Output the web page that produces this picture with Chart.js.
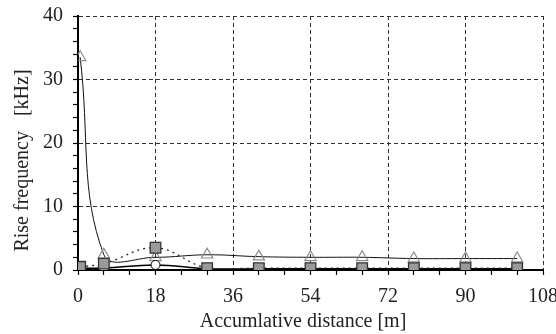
<!DOCTYPE html>
<html>
<head>
<meta charset="utf-8">
<script src="https://cdn.jsdelivr.net/npm/chart.js@4"></script>
<style>
  html, body { margin: 0; padding: 0; background: #fff; }
  #wrap { width: 556px; height: 334px; }
</style>
</head>
<body>
<div id="wrap"><canvas id="riseChart"></canvas></div>
<script>
// distances where each measurement was taken [m]
const distances = [0.5, 6, 18, 30, 42, 54, 66, 78, 90, 102];
// rise frequency per series [kHz]
const triangleValues = [33.5, 2.4, 2.0, 2.4, 2.1, 2.0, 2.0, 1.8, 1.8, 1.8];
const squareValues = [0.5, 1.0, 3.5, 0.3, 0.3, 0.3, 0.3, 0.3, 0.3, 0.3];
const circleValues = [0.3, 0.3, 0.8, 0.2, 0.2, 0.2, 0.2, 0.2, 0.2, 0.2];

const xMajor = 18;
const yMajor = 10;

function toPoints(values) {
  return distances.map((d, i) => ({ x: d, y: values[i] }));
}

const serif = "'Liberation Serif', 'DejaVu Serif', serif";

new Chart("riseChart", {
  type: "line",
  data: {
    datasets: [
      {
        label: "squares",
        data: toPoints(squareValues),
        borderColor: "#222",
        borderWidth: 1.3,
        borderDash: [2, 4],
        pointStyle: "rect",
        pointRadius: 7.5,
        pointBackgroundColor: "#9a9a9a",
        pointBorderColor: "#333",
        pointBorderWidth: 1.3,
        tension: 0.4,
        order: 1,
      },
      {
        label: "circles",
        data: toPoints(circleValues),
        borderColor: "#000",
        borderWidth: 1.5,
        pointStyle: "circle",
        pointRadius: 4.5,
        pointBackgroundColor: "#fff",
        pointBorderColor: "#000",
        pointBorderWidth: 1,
        tension: 0.4,
        order: 2,
      },
      {
        label: "triangles",
        data: toPoints(triangleValues),
        borderColor: "#111",
        borderWidth: 1,
        pointStyle: "triangle",
        pointRadius: 6.5,
        pointBackgroundColor: "rgba(255,255,255,0)",
        pointBorderColor: "#8a8a8a",
        pointBorderWidth: 1.2,
        tension: 0.4,
        order: 3,
      },
    ],
  },
  options: {
    responsive: true,
    maintainAspectRatio: false,
    animation: false,
    layout: { padding: { top: 16, right: 0, left: 0, bottom: 0 } },
    plugins: {
      legend: { display: false },
      tooltip: { enabled: false },
    },
    scales: {
      x: {
        type: "linear",
        min: 0,
        max: 108,
        afterFit: (axis) => {
          axis.height = 64;
          axis.paddingLeft = 0;
          axis.paddingRight = 13;
        },
        border: { display: true, color: "#000", width: 2, dash: [4, 3] },
        grid: {
          color: (ctx) => (ctx.tick && ctx.tick.value % xMajor === 0 ? "#333" : "rgba(0,0,0,0)"),
          lineWidth: 1,
          tickColor: "#000",
          tickLength: 5,
          tickBorderDash: [],
          tickWidth: 1.2,
        },
        ticks: {
          stepSize: 6,
          autoSkip: false,
          maxRotation: 0,
          padding: 10,
          color: "#222",
          font: { family: serif, size: 20 },
          callback: (v) => (v % xMajor === 0 ? String(v) : ""),
        },
        title: {
          display: true,
          text: "Accumlative distance [m]   ",
          color: "#222",
          font: { family: serif, size: 20 },
          padding: { top: 3, bottom: 0 },
        },
      },
      y: {
        min: 0,
        max: 40,
        afterFit: (axis) => {
          axis.width = 78;
          axis.paddingTop = 0;
          axis.paddingBottom = 0;
        },
        border: { display: true, color: "#000", width: 2, dash: [4, 3] },
        grid: {
          color: (ctx) => (ctx.tick && ctx.tick.value % yMajor === 0 ? "#333" : "rgba(0,0,0,0)"),
          lineWidth: 1,
          tickColor: "#000",
          tickLength: 5,
          tickBorderDash: [],
          tickWidth: 1.2,
        },
        ticks: {
          stepSize: 2,
          autoSkip: false,
          padding: 10,
          color: "#222",
          font: { family: serif, size: 20 },
          callback: (v) => (v % yMajor === 0 ? String(v) : ""),
        },
        title: {
          display: true,
          text: "Rise frequency   [kHz]       ",
          color: "#222",
          font: { family: serif, size: 20 },
          padding: { top: 11, bottom: 0 },
        },
      },
    },
  },
});
</script>
</body>
</html>
